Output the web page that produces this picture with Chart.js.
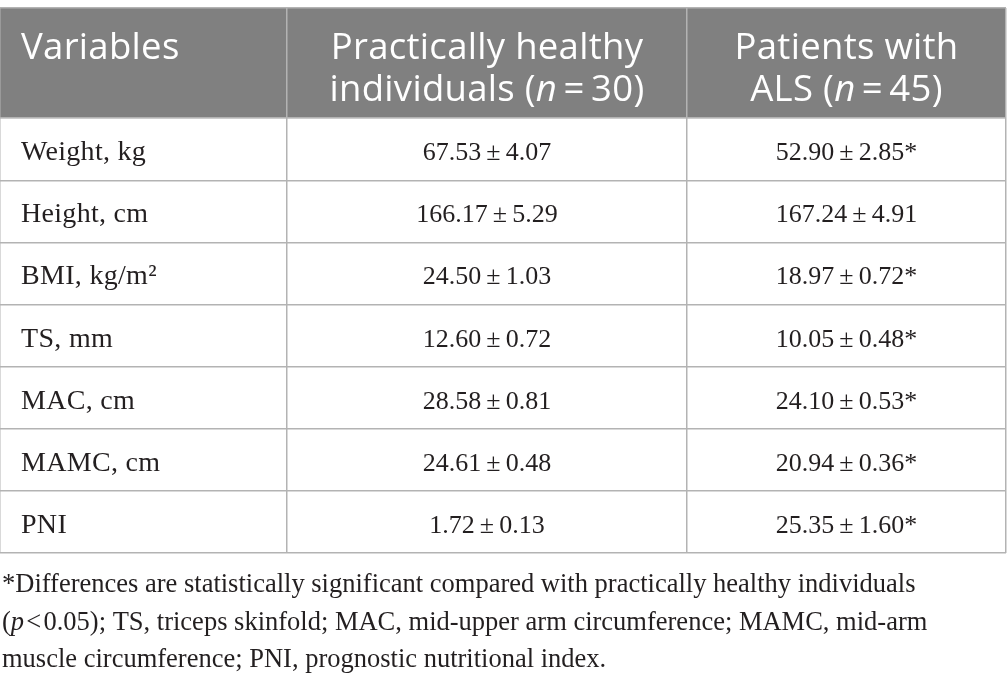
<!DOCTYPE html>
<html>
<head>
<meta charset="utf-8">
<script src="https://cdn.jsdelivr.net/npm/chart.js@4.4.1/dist/chart.umd.min.js"></script>
<style>
  html, body { margin: 0; padding: 0; background: #ffffff; }
  #wrap { width: 1007px; height: 684px; }
</style>
</head>
<body>
<div id="wrap"><canvas id="c" width="1007" height="684"></canvas></div>
<script>
// ---- data ----
const variables = ['Weight, kg', 'Height, cm', 'BMI, kg/m\u00B2', 'TS, mm', 'MAC, cm', 'MAMC, cm', 'PNI'];
const healthyMean = [67.53, 166.17, 24.50, 12.60, 28.58, 24.61, 1.72];
const healthySD   = [4.07, 5.29, 1.03, 0.72, 0.81, 0.48, 0.13];
const alsMean     = [52.90, 167.24, 18.97, 10.05, 24.10, 20.94, 25.35];
const alsSD       = [2.85, 4.91, 0.72, 0.48, 0.53, 0.36, 1.60];
const significant = [true, false, true, true, true, true, true];
const headerCol1 = [[{t: 'Variables'}]];
const headerCol2 = [[{t: 'Practically healthy'}], [{t: 'individuals ('}, {t: 'n', i: true}, {t: '\u2009=\u200930)'}]];
const headerCol3 = [[{t: 'Patients with'}], [{t: 'ALS ('}, {t: 'n', i: true}, {t: '\u2009=\u200945)'}]];
const footnote = [
  [{t: '*Differences are statistically significant compared with practically healthy individuals'}],
  [{t: '('}, {t: 'p', i: true}, {t: '\u200A<\u200A0.05); TS, triceps skinfold; MAC, mid-upper arm circumference; MAMC, mid-arm'}],
  [{t: 'muscle circumference; PNI, prognostic nutritional index.'}]
];

// ---- layout (not data) ----
const colWidths = [287, 400, 319];
const colEdges = colWidths.reduce((a, w) => { a.push(a[a.length - 1] + w); return a; }, [0]);
const headerSpan = 110 / 62;              // header height in row units
const rowEdges = [-headerSpan].concat(variables.map((_, i) => i)).concat([variables.length]);
const SANS = '"Open Sans", "Noto Sans", sans-serif';
const SERIF = '"Liberation Serif", "DejaVu Serif", serif';
const TEXT = '#231f20';

function drawRuns(ctx, runs, x, y, align, font, color) {
  ctx.fillStyle = color;
  ctx.textBaseline = 'alphabetic';
  ctx.textAlign = 'left';
  ctx.letterSpacing = (font.spacing || 0) + 'px';
  const fonts = runs.map(r => (r.i ? 'italic ' : '') + (font.weight || 400) + ' ' + font.size + 'px ' + font.family);
  let total = 0;
  const widths = runs.map((r, k) => { ctx.font = fonts[k]; const w = ctx.measureText(r.t).width; total += w; return w; });
  let cx = align === 'center' ? x - total / 2 : x;
  runs.forEach((r, k) => { ctx.font = fonts[k]; ctx.fillText(r.t, cx, y); cx += widths[k]; });
  ctx.letterSpacing = '0px';
}

const headFont = {size: 36.5, family: SANS, weight: 400, spacing: 0.3};
const labelFont = {size: 28, family: SERIF, spacing: 0.3};
const valueFont = {size: 26, family: SERIF, spacing: 0};
const noteFont = {size: 26.5, family: SERIF, spacing: 0};

const tablePlugin = {
  id: 'table',
  beforeDraw(chart) {
    const {ctx, scales: {x, y}} = chart;
    ctx.save();
    ctx.fillStyle = '#808080';
    const top = y.getPixelForValue(-headerSpan), bot = y.getPixelForValue(0);
    ctx.fillRect(x.getPixelForValue(colEdges[0]), top, x.getPixelForValue(colEdges[3]) - x.getPixelForValue(colEdges[0]), bot - top);
    ctx.restore();
  },
  afterDraw(chart) {
    const {ctx, scales: {x, y}} = chart;
    ctx.save();
    const hTop = y.getPixelForValue(-headerSpan);
    const colC = k => (x.getPixelForValue(colEdges[k]) + x.getPixelForValue(colEdges[k + 1])) / 2;
    const leftX = x.getPixelForValue(colEdges[0]) + 21;
    // header
    headerCol1.forEach((line, j) => drawRuns(ctx, line, leftX, hTop + 51 + j * 42, 'left', headFont, '#ffffff'));
    headerCol2.forEach((line, j) => drawRuns(ctx, line, colC(1), hTop + 51 + j * 42, 'center', headFont, '#ffffff'));
    headerCol3.forEach((line, j) => drawRuns(ctx, line, colC(2), hTop + 51 + j * 42, 'center', headFont, '#ffffff'));
    // body
    variables.forEach((v, i) => {
      const base = y.getPixelForValue(i) + 42;
      drawRuns(ctx, [{t: v}], leftX, base, 'left', labelFont, TEXT);
      drawRuns(ctx, [{t: healthyMean[i].toFixed(2) + '\u2009\u00B1\u2009' + healthySD[i].toFixed(2)}], colC(1), base, 'center', valueFont, TEXT);
      drawRuns(ctx, [{t: alsMean[i].toFixed(2) + '\u2009\u00B1\u2009' + alsSD[i].toFixed(2) + (significant[i] ? '*' : '')}], colC(2), base, 'center', valueFont, TEXT);
    });
    // footnote
    const fBase = y.getPixelForValue(variables.length);
    footnote.forEach((line, j) => drawRuns(ctx, line, 2, fBase + 39 + j * 37.5, 'left', noteFont, TEXT));
    ctx.restore();
  }
};

const gridOpts = {color: '#b3b3b3', lineWidth: 1.5, drawTicks: false, z: 1};
new Chart(document.getElementById('c'), {
  type: 'scatter',
  data: {datasets: [{data: []}]},
  options: {
    responsive: false,
    animation: false,
    events: [],
    layout: {padding: {top: 8, left: 0, right: 1, bottom: 131}},
    plugins: {legend: {display: false}, tooltip: {enabled: false}},
    scales: {
      x: {
        type: 'linear', min: colEdges[0], max: colEdges[colEdges.length - 1],
        afterBuildTicks: s => { s.ticks = colEdges.map(v => ({value: v})); },
        grid: gridOpts, ticks: {display: false}, border: {display: false}
      },
      y: {
        type: 'linear', reverse: true, min: rowEdges[0], max: rowEdges[rowEdges.length - 1],
        afterBuildTicks: s => { s.ticks = rowEdges.map(v => ({value: v})); },
        grid: gridOpts, ticks: {display: false}, border: {display: false}
      }
    }
  },
  plugins: [tablePlugin]
});
</script>
</body>
</html>
